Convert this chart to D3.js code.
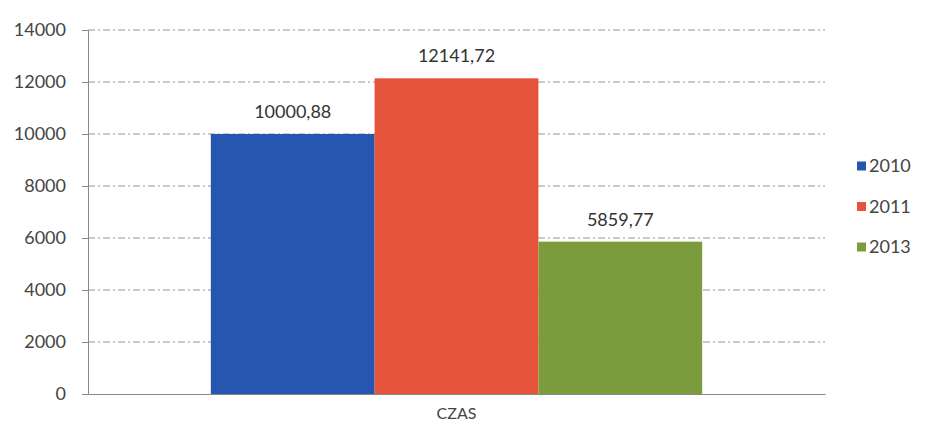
<!DOCTYPE html>
<html><head><meta charset="utf-8">
<script src="https://cdn.jsdelivr.net/npm/d3@7"></script>
<style>body{margin:0;background:#fff;}svg{display:block;}</style>
</head><body>
<svg id="c" width="925" height="426"></svg>
<script>
const categories = ["CZAS"];
const seriesNames = ["2010", "2011", "2013"];
const seriesValues = [10000.88, 12141.72, 5859.77];
const valueLabels = ["10000,88", "12141,72", "5859,77"];
const yTicks = [0, 2000, 4000, 6000, 8000, 10000, 12000, 14000];
const colors = ["#2657b0", "#e5533a", "#7c9b3d"];

const svg = d3.select("#c");
const font = "Lato, 'Open Sans', sans-serif";
const L = 88, R = 825, T = 30, B = 394;

const y = d3.scaleLinear().domain([0, 14000]).range([B, T]);
const x0 = d3.scaleBand().domain(categories).range([L, R]).paddingOuter(0.2).paddingInner(0.2);
const x1 = d3.scaleBand().domain(seriesNames).range([0, x0.bandwidth()]).padding(0);

// gridlines
svg.append("g").selectAll("line").data(yTicks.filter(d => d > 0)).join("line")
  .attr("x1", L).attr("x2", R).attr("y1", d => y(d)).attr("y2", d => y(d))
  .attr("stroke", "#8a8a8a").attr("stroke-width", 0.9).attr("stroke-dasharray", "7,3,2,3");

// y axis
const ya = svg.append("g").attr("transform", `translate(${L},0)`)
  .call(d3.axisLeft(y).tickValues(yTicks).tickSize(6).tickPadding(16).tickFormat(d => d));
ya.select(".domain").attr("stroke", "#888");
ya.selectAll(".tick line").attr("stroke", "#888");
ya.selectAll("text").attr("font-family", font).attr("font-size", 18).attr("fill", "#444");

// bars
const g = svg.append("g");
g.selectAll("rect").data(seriesValues).join("rect")
  .attr("x", (d, i) => x0(categories[0]) + x1(seriesNames[i]))
  .attr("width", x1.bandwidth())
  .attr("y", d => y(d))
  .attr("height", d => y(0) - y(d))
  .attr("fill", (d, i) => colors[i]);

// value labels
g.selectAll("text").data(seriesValues).join("text")
  .attr("x", (d, i) => x0(categories[0]) + x1(seriesNames[i]) + x1.bandwidth() / 2)
  .attr("y", d => y(d) - 16)
  .attr("text-anchor", "middle")
  .attr("font-family", font).attr("font-size", 18).attr("fill", "#333")
  .text((d, i) => valueLabels[i]);

// x axis
const xa = svg.append("g").attr("transform", `translate(0,${B})`)
  .call(d3.axisBottom(x0).tickSize(0).tickPadding(14));
xa.select(".domain").attr("stroke", "#888");
xa.selectAll("text").attr("font-family", font).attr("font-size", 16).attr("fill", "#444");

// legend
const lg = svg.append("g").attr("transform", "translate(857,166)");
const items = lg.selectAll("g").data(seriesNames).join("g")
  .attr("transform", (d, i) => `translate(0,${i * 40.5})`);
items.append("rect").attr("x", 0).attr("y", -4.5).attr("width", 9).attr("height", 9)
  .attr("fill", (d, i) => colors[i]);
items.append("text").attr("x", 12).attr("y", 0).attr("dy", "0.35em")
  .attr("font-family", font).attr("font-size", 18).attr("fill", "#444").text(d => d);
</script>
</body></html>
